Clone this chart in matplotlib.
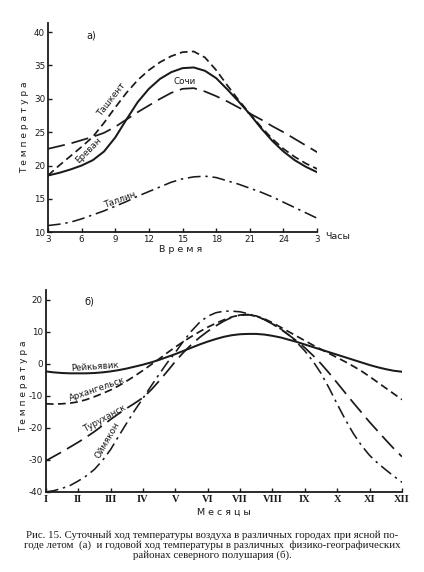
import numpy as np
import matplotlib.pyplot as plt

# --- а) суточный ход температуры, значения по часам (3 ... 24 ... 3) ---
hours = list(range(3, 28))
tashkent = [18.5, 20.0, 21.4, 22.8, 24.3, 26.4, 28.7, 30.9, 32.8, 34.3, 35.5, 36.4, 37.0, 37.1,
            36.2, 34.3, 32.0, 29.8, 27.8, 25.8, 24.0, 22.5, 21.3, 20.3, 19.5]
erevan = [18.5, 18.9, 19.4, 20.0, 20.8, 22.1, 24.2, 26.9, 29.5, 31.5, 33.0, 34.0, 34.6, 34.7,
          34.2, 33.1, 31.4, 29.6, 27.7, 25.6, 23.7, 22.1, 20.8, 19.8, 19.0]
sochi = [22.5, 22.9, 23.3, 23.8, 24.3, 24.9, 25.8, 26.9, 28.0, 29.0, 30.0, 30.9, 31.5, 31.6,
         31.1, 30.4, 29.6, 28.7, 27.8, 26.9, 25.9, 25.0, 24.0, 23.0, 22.0]
tallin = [11.0, 11.2, 11.5, 12.0, 12.6, 13.2, 13.9, 14.6, 15.4, 16.1, 16.8, 17.5, 18.0, 18.3,
          18.4, 18.2, 17.7, 17.2, 16.6, 16.0, 15.3, 14.5, 13.7, 12.9, 12.1]
hour_ticks = [3, 6, 9, 12, 15, 18, 21, 24, 27]
hour_labels = ["3", "6", "9", "12", "15", "18", "21", "24", "3"]

# --- б) годовой ход температуры, значения через четверть месяца (I ... XII) ---
months = np.arange(1, 12.01, 0.25)
reykjavik = [-2.4, -2.7, -2.9, -3.0, -3.0, -3.0, -2.9, -2.7, -2.4, -2.0, -1.5, -0.9, -0.3,
             0.4, 1.2, 2.1, 3.0, 4.0, 5.0, 6.0, 6.9, 7.7, 8.4, 8.9, 9.2, 9.3, 9.3, 9.1,
             8.7, 8.2, 7.5, 6.8, 6.0, 5.2, 4.4, 3.6, 2.8, 2.0, 1.2, 0.4, -0.4, -1.1, -1.7,
             -2.2, -2.5]
arkhangelsk = [-12.5, -12.6, -12.5, -12.3, -11.9, -11.2, -10.3, -9.3, -8.2, -6.9, -5.4,
               -3.8, -2.1, -0.3, 1.5, 3.4, 5.2, 6.9, 8.5, 10.0, 11.4, 12.6, 13.7, 14.6, 15.2,
               15.3, 14.9, 14.0, 12.8, 11.4, 10.0, 8.6, 7.2, 5.8, 4.5, 3.2, 1.9, 0.6, -0.8,
               -2.3, -4.0, -5.8, -7.6, -9.4, -11.2]
turukhansk = [-30.3, -28.9, -27.5, -26.0, -24.5, -22.9, -21.2, -19.3, -17.4, -15.6, -13.9,
              -12.3, -10.6, -8.2, -5.4, -2.4, 0.7, 3.5, 6.0, 8.2, 10.1, 11.8, 13.3, 14.5,
              15.2, 15.3, 14.8, 13.8, 12.4, 10.8, 9.0, 7.1, 5.0, 2.6, 0.0, -2.9, -6.0, -9.1,
              -12.2, -15.2, -18.2, -21.0, -23.8, -26.5, -29.0]
oymyakon = [-40.0, -39.6, -38.9, -38.0, -36.6, -35.0, -33.0, -30.2, -26.8, -22.6, -18.5,
            -14.5, -10.8, -7.0, -3.3, 0.3, 3.5, 7.0, 10.2, 12.9, 14.8, 15.9, 16.4, 16.4,
            16.2, 15.6, 14.8, 13.8, 12.5, 10.9, 9.0, 6.7, 4.0, 0.8, -3.0, -7.6, -12.6,
            -17.4, -21.8, -25.5, -28.6, -31.0, -33.1, -35.1, -37.0]
month_ticks = list(range(1, 13))
month_labels = ["I", "II", "III", "IV", "V", "VI", "VII", "VIII", "IX", "X", "XI", "XII"]

ink = "#1a1a1a"
sans = "DejaVu Sans"
serif = "Liberation Serif"
lw = 1.25
dash_short = (4.5, 2.5)
dash_long = (10, 4)
dash_dot = (8, 3, 1.5, 3)

fig = plt.figure(figsize=(4.24, 5.72), dpi=100)
fig.patch.set_facecolor("white")


def style_axes(ax):
    for s in ["top", "right"]:
        ax.spines[s].set_visible(False)
    for s in ["left", "bottom"]:
        ax.spines[s].set_linewidth(1.3)
        ax.spines[s].set_color(ink)
    ax.tick_params(direction="in", length=3, width=1, colors=ink, pad=2)


def label(ax, x, y, s, rot=0, size=6.3):
    ax.text(x, y, s, rotation=rot, fontsize=size, family=sans, color=ink,
            ha="center", va="center", rotation_mode="anchor")


# верхний график
ax1 = fig.add_axes([0.113, 0.594, 0.635, 0.365])
style_axes(ax1)
ax1.plot(hours, tashkent, color=ink, lw=lw, dashes=dash_short)
ax1.plot(hours, erevan, color=ink, lw=lw + 0.2)
ax1.plot(hours, sochi, color=ink, lw=lw, dashes=dash_long)
ax1.plot(hours, tallin, color=ink, lw=lw - 0.1, dashes=dash_dot)
ax1.set_xlim(3, 27)
ax1.set_ylim(10, 41.3)
ax1.set_xticks(hour_ticks)
ax1.set_xticklabels(hour_labels, fontsize=6.3, family=sans)
ax1.set_yticks([10, 15, 20, 25, 30, 35, 40])
ax1.set_yticklabels(["10", "15", "20", "25", "30", "35", "40"], fontsize=6.3, family=sans)

label(ax1, 8.7, 29.9, "Ташкент", 52)
label(ax1, 6.6, 22.3, "Ереван", 45)
label(ax1, 15.2, 32.6, "Сочи")
label(ax1, 9.4, 14.8, "Таллин", 20)
label(ax1, 6.9, 39.5, "а)", size=7)

# нижний график
ax2 = fig.add_axes([0.108, 0.140, 0.840, 0.353])
style_axes(ax2)
ax2.plot(months, reykjavik, color=ink, lw=lw + 0.2)
ax2.plot(months, arkhangelsk, color=ink, lw=lw, dashes=dash_short)
ax2.plot(months, turukhansk, color=ink, lw=lw, dashes=dash_long)
ax2.plot(months, oymyakon, color=ink, lw=lw - 0.1, dashes=dash_dot)
ax2.set_xlim(1, 12)
ax2.set_ylim(-40, 23)
ax2.set_xticks(month_ticks)
ax2.set_xticklabels(month_labels, fontsize=7.5, family=serif, fontweight="bold")
ax2.set_yticks([-40, -30, -20, -10, 0, 10, 20])
ax2.set_yticklabels(["-40", "-30", "-20", "-10", "0", "10", "20"], fontsize=6.3, family=sans)

label(ax2, 2.5, -1.1, "Рейкьявик", 4)
label(ax2, 2.6, -8.0, "Архангельск", 19)
label(ax2, 2.8, -17.0, "Туруханск", 29)
label(ax2, 2.9, -24.0, "Оймякон", 60)
label(ax2, 2.34, 19.5, "б)", size=7)

# подписи осей
fig.text(0.059, 0.778, "Т е м п е р а т у р а", rotation=90, fontsize=6.5, family=sans,
         color=ink, ha="center", va="center")
fig.text(0.055, 0.325, "Т е м п е р а т у р а", rotation=90, fontsize=6.5, family=sans,
         color=ink, ha="center", va="center")
fig.text(0.425, 0.563, "В р е м я", fontsize=6.8, family=sans, color=ink, ha="center", va="center")
fig.text(0.767, 0.586, "Часы", fontsize=6.8, family=sans, color=ink, ha="left", va="center")
fig.text(0.527, 0.105, "М е с я ц ы", fontsize=6.8, family=sans, color=ink, ha="center", va="center")

# подпись к рисунку
cap = [
    "Рис. 15. Суточный ход температуры воздуха в различных городах при ясной по-",
    "годе летом  (а)  и годовой ход температуры в различных  физико-географических",
    "районах северного полушария (б).",
]
fig.text(0.5, 0.065, cap[0], fontsize=7.8, family=serif, color=ink, ha="center", va="center")
fig.text(0.5, 0.047, cap[1], fontsize=7.8, family=serif, color=ink, ha="center", va="center")
fig.text(0.5, 0.029, cap[2], fontsize=7.8, family=serif, color=ink, ha="center", va="center")

fig.savefig("out.png", dpi=100, facecolor="white")
